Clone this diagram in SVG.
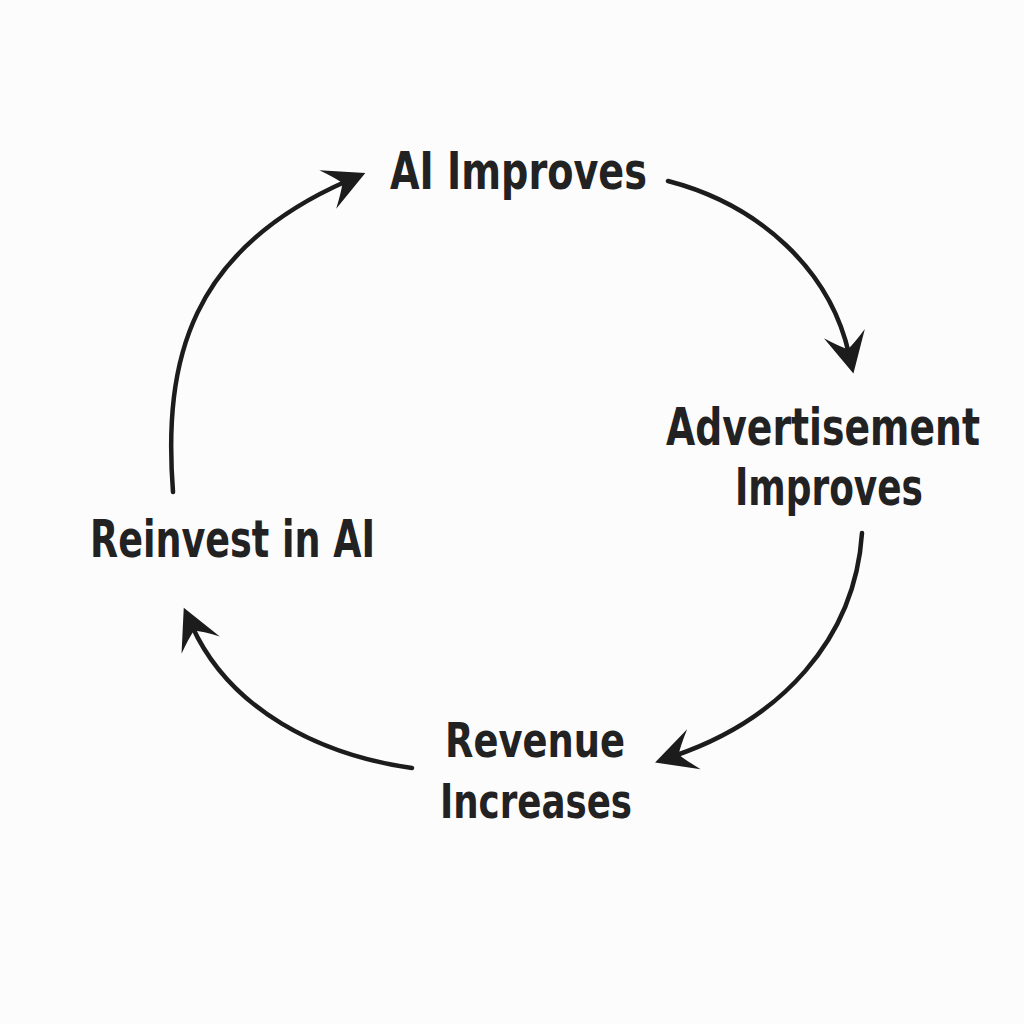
<svg xmlns="http://www.w3.org/2000/svg" width="1024" height="1024" viewBox="0 0 1024 1024">
  <defs>
    <style>
      .lbl { font-family: "DejaVu Sans", "Liberation Sans", sans-serif; font-stretch: condensed; font-weight: bold; font-size: 51px; fill: #222222; text-anchor: middle; }
      .sm { font-size: 48px; }
      .conn { fill: none; stroke: #1c1c1c; stroke-width: 4.5; stroke-linecap: round; }
    </style>
    <marker id="head" markerUnits="userSpaceOnUse" viewBox="-25 -25 50 50" markerWidth="50" markerHeight="50" refX="0" refY="0" orient="auto">
      <path d="M20,0 L-21,-21 Q-9,-7 -5,0 Q-9,7 -21,21 Z" fill="#1c1c1c"/>
    </marker>
  </defs>
  <rect width="1024" height="1024" fill="#fdfcfd"/>
  <g id="connectors">
    <path class="conn" d="M173,492 C163,360 190,250 347,181" marker-end="url(#head)"/>
    <path class="conn" d="M668,181 C760,205 830,270 849,354" marker-end="url(#head)"/>
    <path class="conn" d="M862,533 C855,640 780,720 674,756" marker-end="url(#head)"/>
    <path class="conn" d="M412,768 C320,755 230,710 192,626" marker-end="url(#head)"/>
  </g>
  <g id="node-ai-improves">
    <text class="lbl" x="518.5" y="189" textLength="257" lengthAdjust="spacingAndGlyphs">AI Improves</text>
  </g>
  <g id="node-advertisement-improves">
    <text class="lbl" x="980" y="445" style="text-anchor:end" textLength="314" lengthAdjust="spacingAndGlyphs">Advertisement</text>
    <text class="lbl" x="829" y="505" textLength="188" lengthAdjust="spacingAndGlyphs">Improves</text>
  </g>
  <g id="node-revenue-increases">
    <text class="lbl sm" x="535" y="757" textLength="180" lengthAdjust="spacingAndGlyphs">Revenue</text>
    <text class="lbl sm" x="536" y="818" textLength="192" lengthAdjust="spacingAndGlyphs">Increases</text>
  </g>
  <g id="node-reinvest">
    <text class="lbl" x="232.5" y="557" textLength="285" lengthAdjust="spacingAndGlyphs">Reinvest in AI</text>
  </g>
</svg>
